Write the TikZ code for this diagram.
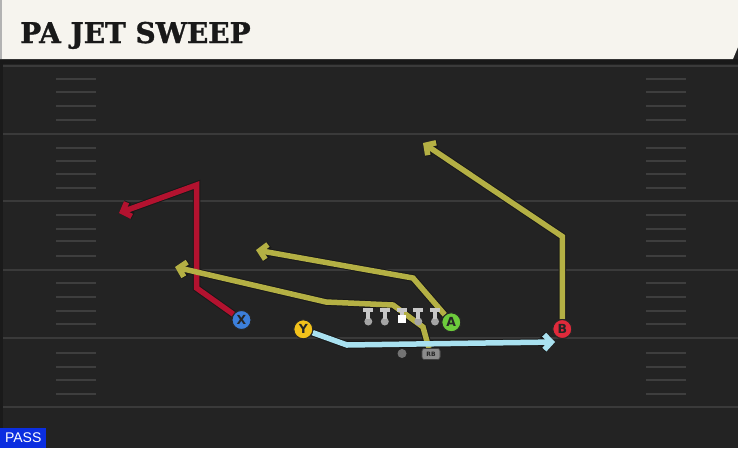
\documentclass[tikz,border=0pt]{standalone}
\usepackage{fontspec}
\setmainfont{DejaVu Sans}
\newfontfamily\titlefont{DejaVu Serif}[FakeStretch=0.98,FakeBold=1.2]
\newfontfamily\passfont{Liberation Sans}
\usetikzlibrary{arrows.meta}
\definecolor{field}{HTML}{232323}
\definecolor{yardline}{HTML}{3A3A3A}
\definecolor{hashc}{HTML}{3E3E3E}
\definecolor{headbg}{HTML}{F6F4EE}
\definecolor{redroute}{HTML}{B3122F}
\definecolor{yelroute}{HTML}{B4B044}
\definecolor{blueroute}{HTML}{A9E1F0}
\definecolor{xblue}{HTML}{3C7FDB}
\definecolor{yyel}{HTML}{F3C21B}
\definecolor{agreen}{HTML}{6DCB3C}
\definecolor{bred}{HTML}{E02A3B}
\definecolor{passblue}{HTML}{0B2EE0}
\definecolor{lineman}{HTML}{C8C8C8}
\definecolor{linemanball}{HTML}{A5A5A5}
\tikzset{
  player/.style={circle,draw=black!85,line width=1pt,minimum size=19pt,inner sep=0pt,
    font=\fontsize{12.5}{12.5}\selectfont\bfseries,text=black!85},
  rbbadge/.style={rounded corners=2.5pt,fill=black!45,draw=black!75,line width=0.6pt,minimum width=18pt,minimum height=11pt,inner sep=0pt,
    font=\fontsize{6}{6}\selectfont\bfseries,text=black!85},
  routeout/.style={line width=7.5pt,draw=black!90,line join=miter,
    -{Straight Barb[length=7pt,width=15pt,line width=7.5pt]}},
  routein/.style={line width=5.5pt,line join=miter,
    -{Straight Barb[length=7pt,width=15pt,line width=5.5pt]}},
  hashmark/.style={draw=hashc,line width=1.6pt},
  yard/.style={draw=yardline,line width=2pt},
  tbar/.style={fill=lineman,draw=none},
}
\begin{document}
\begin{tikzpicture}[x=1pt,y=-1pt]
\useasboundingbox (0,0) rectangle (738,448);
% field
\fill[field] (0,0) rectangle (738,448);
\fill[black!25!field] (0,59) rectangle (3,448);
\foreach \yy in {66,133.5,201,270,338,407}{
  \draw[yard] (3,\yy) -- (738,\yy);
}
\foreach \yy in {79,92,106,120,148,161,174,188,215,229,241,256,283,297,311,324,353,367,380,394}{
  \draw[hashmark] (56,\yy) -- (96,\yy);
  \draw[hashmark] (646,\yy) -- (686,\yy);
}
% header
\fill[black!90] (0,59) rectangle (738,64);
\fill[headbg] (0,0) -- (738,0) -- (738,47) -- (733,59) -- (0,59) -- cycle;
\fill[black!30] (0,0) rectangle (2,59);
\node[anchor=base west,inner sep=0pt,font=\titlefont\bfseries\fontsize{28.5}{28.5}\selectfont,text=black!90] (title) at (20,43) {PA JET SWEEP};
% PASS badge
\node[anchor=south west,fill=passblue,text=white,inner sep=0pt,minimum width=46pt,minimum height=20pt,font=\passfont\fontsize{14}{14}\selectfont] (pass) at (0,448) {PASS};

% players
\node[player,fill=xblue] (X) at (241.5,320) {X};
\node[player,fill=yyel] (Y) at (303.3,329.3) {Y};
\node[player,fill=agreen] (A) at (451.3,322.3) {A};
\node[player,fill=bred] (B) at (562.3,329) {B};
\node[circle,fill=black!55,inner sep=0pt,minimum size=9pt] (QB) at (402,353.5) {};
\node[rbbadge] (RB) at (431,354) {RB};

% route coordinates
\coordinate (r1) at (196.5,288);
\coordinate (r2) at (196.5,185);
\coordinate (r3) at (119,213);
\coordinate (y1) at (428,345);
\coordinate (y2) at (423,327);
\coordinate (y3) at (393,305);
\coordinate (y4) at (326,302);
\coordinate (y5) at (175,267);
\coordinate (a1) at (413,278);
\coordinate (a2) at (256,250);
\coordinate (b1) at (562.3,236.5);
\coordinate (b2) at (423,143);
\coordinate (c1) at (347,345);
\coordinate (c2) at (450,343.5);
\coordinate (c3) at (555,342);

% routes: outlines
\draw[routeout] (X) -- (r1) -- (r2) -- (r3);
\draw[routeout] (RB) -- (y1) -- (y2) -- (y3) -- (y4) -- (y5);
\draw[routeout] (A) -- (a1) -- (a2);
\draw[routeout] (B) -- (b1) -- (b2);
\draw[routeout] (Y) -- (c1) -- (c2) -- (c3);
% routes: colour
\draw[routein,draw=redroute,color=redroute] (X) -- (r1) -- (r2) -- (r3);
\draw[routein,draw=yelroute,color=yelroute] (RB) -- (y1) -- (y2) -- (y3) -- (y4) -- (y5);
\draw[routein,draw=yelroute,color=yelroute] (A) -- (a1) -- (a2);
\draw[routein,draw=yelroute,color=yelroute] (B) -- (b1) -- (b2);
\draw[routein,draw=blueroute,color=blueroute] (Y) -- (c1) -- (c2) -- (c3);

% redraw players on top
\node[player,fill=xblue] at (X) {X};
\node[player,fill=yyel] at (Y) {Y};
\node[player,fill=agreen] at (A) {A};
\node[player,fill=bred] at (B) {B};
\node[rbbadge] at (RB) {RB};

% offensive line
\foreach \xx/\nm in {368.3/LT,384.8/LG,418.3/RG,435/RT}{
  \fill[linemanball] (\xx,321.5) circle (4pt);
  \fill[tbar] (\xx-2,310) rectangle (\xx+2,319);
  \fill[tbar] (\xx-5,308.3) rectangle (\xx+5,312);
  \coordinate (\nm) at (\xx,315);
}
\fill[tbar] (401.7-2,310) rectangle (401.7+2,315);
\fill[tbar] (401.7-5,308.3) rectangle (401.7+5,312);
\node[fill=white,minimum size=8pt,inner sep=0pt] (C) at (401.7,318.8) {};
\end{tikzpicture}
\end{document}
